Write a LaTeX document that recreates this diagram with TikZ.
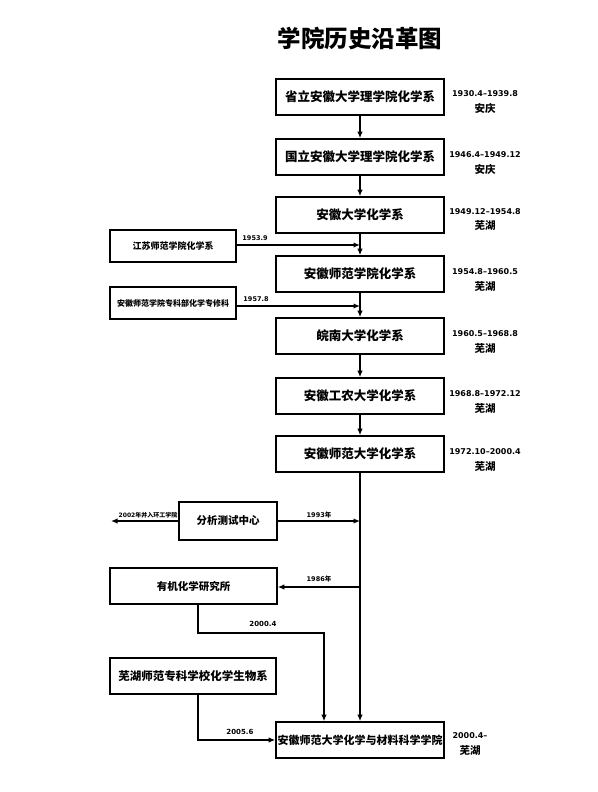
\documentclass[tikz,border=0pt]{standalone}
\usepackage{fontspec}
\setmainfont{DejaVu Sans}
\newfontfamily\cjk{Noto Sans CJK SC}
\usetikzlibrary{arrows.meta}
\newcommand{\cj}[1]{{\cjk\bfseries #1}}
\tikzset{
  box/.style={draw, line width=1.6pt, minimum width=168pt, minimum height=36pt, inner sep=0pt, font=\cjk\bfseries\fontsize{12.5}{14}\selectfont},
  sidebox/.style={draw, line width=1.6pt, inner sep=0pt},
  arr/.style={line width=1.4pt, -{Latex[length=6.5pt,width=5.5pt]}},
  date/.style={font=\bfseries\fontsize{8}{9}\selectfont, inner sep=0pt},
  city/.style={font=\cjk\bfseries\fontsize{10.5}{11}\selectfont, inner sep=0pt},
  yr/.style={font=\bfseries\fontsize{6.5}{7}\selectfont, inner sep=0pt},
}
\begin{document}
\begin{tikzpicture}[x=1pt,y=-1pt]
\useasboundingbox (0,0) rectangle (597,792);
\node[font=\cjk\bfseries\fontsize{23.5}{25}\selectfont] (title) at (360,38) {学院历史沿革图};

\node[box] (b1) at (360,97) {省立安徽大学理学院化学系};
\node[box] (b2) at (360,157) {国立安徽大学理学院化学系};
\node[box] (b3) at (360,215) {安徽大学化学系};
\node[box] (b4) at (360,274) {安徽师范学院化学系};
\node[box] (b5) at (360,336) {皖南大学化学系};
\node[box] (b6) at (360,396) {安徽工农大学化学系};
\node[box] (b7) at (360,454) {安徽师范大学化学系};
\node[box, font=\cjk\bfseries\fontsize{11}{13}\selectfont] (bf) at (360,740) {安徽师范大学化学与材料科学学院};

\node[sidebox, minimum width=126pt, minimum height=32pt, font=\cjk\bfseries\fontsize{9}{10}\selectfont] (js) at (173,246) {江苏师范学院化学系};
\node[sidebox, minimum width=126pt, minimum height=32pt, font=\cjk\bfseries\fontsize{8}{9}\selectfont] (zk) at (173,303) {安徽师范学院专科部化学专修科};
\node[sidebox, minimum width=98pt, minimum height=38pt, font=\cjk\bfseries\fontsize{10.5}{12}\selectfont] (fx) at (228,521) {分析测试中心};
\node[sidebox, minimum width=167pt, minimum height=36pt, font=\cjk\bfseries\fontsize{10.5}{12}\selectfont] (yj) at (193.5,586) {有机化学研究所};
\node[sidebox, minimum width=166pt, minimum height=36pt, font=\cjk\bfseries\fontsize{11.5}{13}\selectfont] (wh) at (193,676) {芜湖师范专科学校化学生物系};

% right-side labels
\node[date] (d1) at (485,94) {1930.4–1939.8};
\node[city] (c1) at (485,108) {安庆};
\node[date] (d2) at (485,155) {1946.4–1949.12};
\node[city] (c2) at (485,169) {安庆};
\node[date] (d3) at (485,212) {1949.12–1954.8};
\node[city] (c3) at (485,226) {芜湖};
\node[date] (d4) at (485,272) {1954.8–1960.5};
\node[city] (c4) at (485,287) {芜湖};
\node[date] (d5) at (485,334) {1960.5–1968.8};
\node[city] (c5) at (485,349) {芜湖};
\node[date] (d6) at (485,394) {1968.8–1972.12};
\node[city] (c6) at (485,409) {芜湖};
\node[date] (d7) at (485,452) {1972.10–2000.4};
\node[city] (c7) at (485,467) {芜湖};
\node[date] (df) at (470,736) {2000.4–};
\node[city] (cf) at (470,751) {芜湖};

% main chain
\draw[arr] (b1.south) -- (b2.north);
\draw[arr] (b2.south) -- (b3.north);
\draw[arr] (b3.south) -- (b4.north);
\draw[arr] (b4.south) -- (b5.north);
\draw[arr] (b5.south) -- (b6.north);
\draw[arr] (b6.south) -- (b7.north);
\draw[arr] (b7.south) -- (bf.north);

% side merges
\coordinate (m1) at (360,245);
\coordinate (m2) at (360,306);
\coordinate (m3) at (360,521);
\coordinate (m4) at (360,587);
\coordinate (out) at (111,521);
\draw[arr] (js.east |- m1) -- (m1);
\draw[arr] (zk.east |- m2) -- (m2);
\draw[arr] (fx.east) -- (m3);
\draw[arr] (fx.west) -- (out);
\draw[arr] (m4) -- (yj.east |- m4);
\draw[arr] ([xshift=4.5pt]yj.south) -- ++(0,28) -| ([xshift=-36pt]bf.north);
\draw[arr] ([xshift=5pt]wh.south) |- (bf.west);

% year labels
\node[yr] (y1) at (255,238) {1953.9};
\node[yr] (y2) at (256,299) {1957.8};
\node[yr] (y3) at (319,515) {1993\cj{年}};
\node[yr] (y4) at (319,579) {1986\cj{年}};
\node[yr, font=\bfseries\fontsize{6}{7}\selectfont] (y5) at (148,515) {2002\cj{年并入环工学院}};
\node[yr, font=\bfseries\fontsize{7}{8}\selectfont] (y6) at (263,624) {2000.4};
\node[yr, font=\bfseries\fontsize{7}{8}\selectfont] (y7) at (240,732) {2005.6};
\end{tikzpicture}
\end{document}
